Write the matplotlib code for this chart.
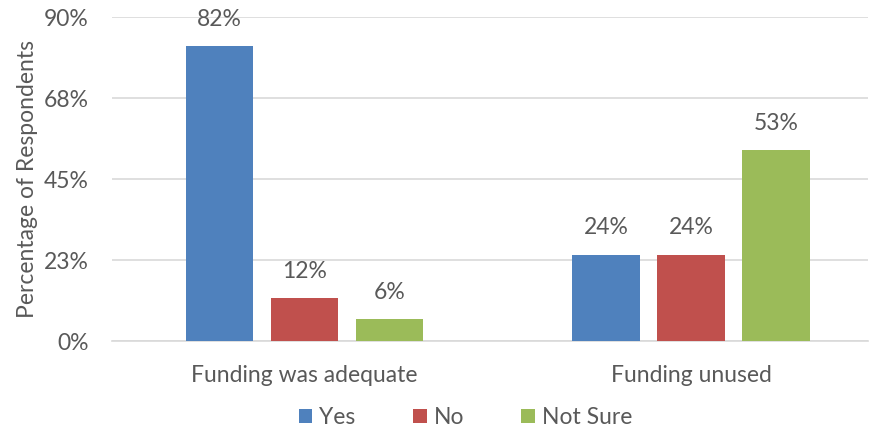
import matplotlib.pyplot as plt
import numpy as np

categories = ['Funding was adequate', 'Funding unused']
series = ['Yes', 'No', 'Not Sure']
yes = [82, 24]
no = [12, 24]
not_sure = [6, 53]
colors = ['#4F81BD', '#C0504D', '#9BBB59']
yticks = [0, 22.5, 45, 67.5, 90]
ytick_labels = ['0%', '23%', '45%', '68%', '90%']

plt.rcParams['font.family'] = ['Lato', 'DejaVu Sans']
text_color = '#595959'
fs = 16.5

fig = plt.figure(figsize=(8.75, 4.29), dpi=100)
ax = fig.add_axes([0.128, 0.205, 0.864, 0.755])

x = np.arange(len(categories))
width = 0.174
offsets = [-0.22, 0, 0.22]
for vals, name, c, off in zip([yes, no, not_sure], series, colors, offsets):
    bars = ax.bar(x + off, vals, width, color=c, label=name, zorder=3)
    for b, v in zip(bars, vals):
        ax.text(b.get_x() + b.get_width() / 2, v + 4.5, f'{v}%', ha='center', va='bottom',
                fontsize=fs, color=text_color)

ax.set_xlim(-0.498, 1.458)
ax.set_ylim(0, 90)
ax.set_yticks(yticks)
ax.set_yticklabels(ytick_labels)
ax.set_xticks(x)
ax.set_xticklabels(categories)
ax.tick_params(axis='both', length=0, labelsize=fs, colors=text_color)
ax.tick_params(axis='x', pad=17)
ax.tick_params(axis='y', pad=17)
ax.grid(axis='y', color='#D9D9D9', linewidth=1.2, zorder=0)
for s in ['top', 'right', 'left']:
    ax.spines[s].set_visible(False)
ax.spines['bottom'].set_color('#D9D9D9')
ax.spines['bottom'].set_linewidth(1.2)
ax.set_ylabel('Percentage of Respondents', fontsize=fs, color=text_color, labelpad=4)

leg = fig.legend(loc='center', bbox_to_anchor=(0.532, 0.027), ncol=3, frameon=False,
                 fontsize=fs, handlelength=0.6, handleheight=0.6, columnspacing=2.5,
                 handletextpad=0.3, borderpad=0)
for t in leg.get_texts():
    t.set_color(text_color)

fig.savefig('out.png', dpi=100)
